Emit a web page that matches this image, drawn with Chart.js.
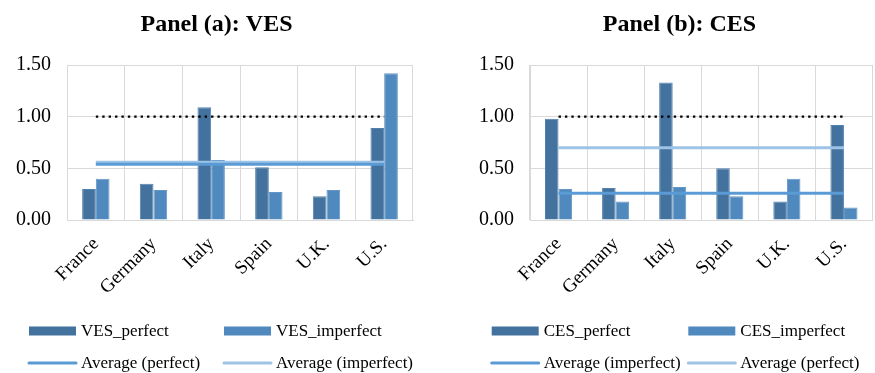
<!DOCTYPE html>
<html>
<head>
<meta charset="utf-8">
<script src="https://cdn.jsdelivr.net/npm/chart.js@4.4.1/dist/chart.umd.min.js"></script>
<style>
  html, body { margin: 0; padding: 0; background: #fff; overflow: hidden; width: 875px; height: 373px; }
  #wrap { position: relative; width: 875px; height: 373px; }
  .panel { position: absolute; top: 0; height: 373px; }
  #pa { left: 0; width: 437px; }
  #pb { left: 440px; width: 435px; }
</style>
</head>
<body>
<div id="wrap">
  <div class="panel" id="pa"><canvas id="ca" width="437" height="373"></canvas></div>
  <div class="panel" id="pb"><canvas id="cb" width="435" height="373"></canvas></div>
</div>
<script>
// Countries on the x axis
const categories = ['France', 'Germany', 'Italy', 'Spain', 'U.K.', 'U.S.'];

// Panel (a): VES
const vesPerfect   = [0.30, 0.35, 1.09, 0.51, 0.23, 0.89];
const vesImperfect = [0.40, 0.29, 0.58, 0.27, 0.29, 1.42];
const vesAvgPerfectLine   = [0.54, 0.54, 0.54, 0.54, 0.54, 0.54];
const vesAvgImperfectLine = [0.56, 0.56, 0.56, 0.56, 0.56, 0.56];

// Panel (b): CES
const cesPerfect   = [0.98, 0.31, 1.33, 0.50, 0.18, 0.92];
const cesImperfect = [0.30, 0.18, 0.32, 0.23, 0.40, 0.12];
const cesAvgImperfectLine = [0.26, 0.26, 0.26, 0.26, 0.26, 0.26];
const cesAvgPerfectLine   = [0.70, 0.70, 0.70, 0.70, 0.70, 0.70];

// Unit benchmark drawn as a dotted line in both panels
const unitLine = [1, 1, 1, 1, 1, 1];

// Value axis ticks
const yTickValues = [0, 0.5, 1.0, 1.5];

const SERIF = '"Liberation Serif", "Times New Roman", serif';
const COLORS = {
  perfectBar: '#43729e', perfectEdge: '#5281ad',
  imperfectBar: '#4f89bd', imperfectEdge: '#6396c6',
  avgDark: '#5b9bd5', avgLight: '#9dc3e6',
  grid: '#d9d9d9'
};

// Draws the panel title and the two-row legend
const panelDecor = {
  id: 'panelDecor',
  afterDraw(chart, args, opts) {
    const ctx = chart.ctx;
    ctx.save();
    ctx.fillStyle = '#000';
    ctx.font = 'bold 24px ' + SERIF;
    ctx.textAlign = 'center';
    ctx.textBaseline = 'alphabetic';
    ctx.fillText(opts.title, opts.titleX, 31);

    ctx.font = '17px ' + SERIF;
    ctx.textAlign = 'left';
    ctx.textBaseline = 'middle';
    opts.items.forEach(item => {
      const ds = chart.data.datasets[item.index];
      const x = opts.legendX + item.col * opts.colGap;
      const y = item.row === 0 ? 331 : 363;
      if (ds.type === 'line') {
        ctx.strokeStyle = ds.borderColor;
        ctx.lineWidth = 3;
        ctx.lineCap = 'round';
        ctx.beginPath();
        ctx.moveTo(x, y);
        ctx.lineTo(x + 47, y);
        ctx.stroke();
      } else {
        ctx.fillStyle = ds.backgroundColor;
        ctx.fillRect(x, y - 4.5, 47, 9);
      }
      ctx.fillStyle = '#000';
      ctx.fillText(ds.label, x + 52, y + 1);
    });
    ctx.restore();
  }
};

function buildChart(canvasId, cfg) {
  const datasets = [
    { type: 'bar', label: cfg.barLabels[0], data: cfg.bars[0], order: 2,
      backgroundColor: COLORS.perfectBar, borderColor: COLORS.perfectEdge, borderWidth: 1,
      categoryPercentage: 0.475, barPercentage: 1.0 },
    { type: 'bar', label: cfg.barLabels[1], data: cfg.bars[1], order: 2,
      backgroundColor: COLORS.imperfectBar, borderColor: COLORS.imperfectEdge, borderWidth: 1,
      categoryPercentage: 0.475, barPercentage: 1.0 },
    { type: 'line', label: cfg.lineLabels[0], data: cfg.lines[0], order: 1,
      borderColor: COLORS.avgDark, borderWidth: 3, pointRadius: 0, tension: 0 },
    { type: 'line', label: cfg.lineLabels[1], data: cfg.lines[1], order: 1,
      borderColor: COLORS.avgLight, borderWidth: 3, pointRadius: 0, tension: 0 },
    { type: 'line', label: 'Unit benchmark', data: unitLine, order: 0,
      borderColor: '#000', borderWidth: 2.4, borderDash: [2.4, 4], pointRadius: 0, tension: 0 }
  ];

  return new Chart(document.getElementById(canvasId), {
    data: { labels: categories, datasets },
    plugins: [panelDecor],
    options: {
      responsive: false,
      animation: false,
      layout: { padding: { top: 65, bottom: 0, left: 0, right: cfg.padRight } },
      plugins: {
        legend: { display: false },
        title: { display: false },
        tooltip: { enabled: false },
        panelDecor: {
          title: cfg.title, titleX: cfg.titleX,
          legendX: cfg.legendX, colGap: cfg.colGap,
          items: [
            { index: 0, row: 0, col: 0 },
            { index: 1, row: 0, col: 1 },
            { index: 2, row: 1, col: 0 },
            { index: 3, row: 1, col: 1 }
          ]
        }
      },
      scales: {
        x: {
          offset: true,
          grid: { color: COLORS.grid, offset: true, drawTicks: false },
          border: { color: COLORS.grid },
          ticks: {
            color: '#000', font: { family: SERIF, size: 19 },
            minRotation: 45, maxRotation: 45, autoSkip: false, padding: 13
          },
          afterFit(scale) { scale.height = 153; }
        },
        y: {
          min: 0, max: 1.5,
          grid: { color: COLORS.grid, drawTicks: false },
          border: { color: COLORS.grid },
          afterBuildTicks(scale) { scale.ticks = yTickValues.map(v => ({ value: v })); },
          ticks: {
            color: '#000', font: { family: SERIF, size: 20 }, padding: 16,
            callback: v => Number(v).toFixed(2)
          },
          afterFit(scale) { scale.width = cfg.axisWidth; }
        }
      }
    }
  });
}

buildChart('ca', {
  title: 'Panel (a): VES', titleX: 216.5,
  barLabels: ['VES_perfect', 'VES_imperfect'],
  bars: [vesPerfect, vesImperfect],
  lineLabels: ['Average (perfect)', 'Average (imperfect)'],
  lines: [vesAvgPerfectLine, vesAvgImperfectLine],
  axisWidth: 67, padRight: 24,
  legendX: 29, colGap: 195
});

buildChart('cb', {
  title: 'Panel (b): CES', titleX: 239.5,
  barLabels: ['CES_perfect', 'CES_imperfect'],
  bars: [cesPerfect, cesImperfect],
  lineLabels: ['Average (imperfect)', 'Average (perfect)'],
  lines: [cesAvgImperfectLine, cesAvgPerfectLine],
  axisWidth: 90, padRight: 2.5,
  legendX: 51.7, colGap: 196.6
});
</script>
</body>
</html>
